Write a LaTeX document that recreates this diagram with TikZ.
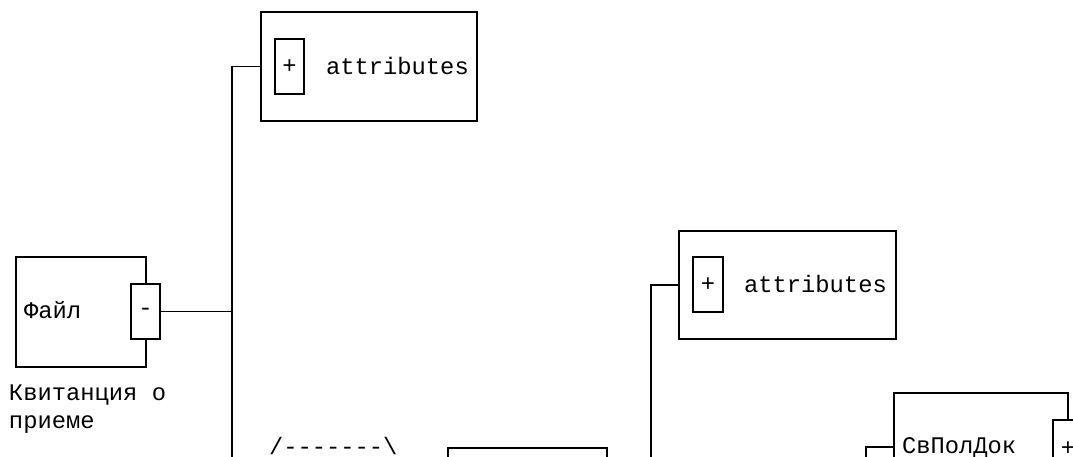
\documentclass[tikz,border=0pt]{standalone}
\usepackage{fontspec}
\setmainfont{Liberation Mono}
\newcommand{\dsh}{-\kern0pt}
\begin{document}
\begin{tikzpicture}[x=1pt,y=-1pt,
  line width=1.8pt,
  box/.style={draw, rectangle, inner sep=0pt, outer sep=0pt, anchor=north west, fill=white},
  txt/.style={inner sep=0pt, outer sep=0pt, anchor=base west, font=\fontsize{23.8}{29}\selectfont},
  sym/.style={inner sep=0pt, font=\fontsize{23.8}{29}\selectfont},
  conn/.style={draw}]
\useasboundingbox (0,0) rectangle (1073,457);
\clip (0,0) rectangle (1073,457);
% root element
\node[box, minimum width=130pt, minimum height=110pt] (file) at (16,257) {};
\node[box, minimum width=29pt, minimum height=55pt] (fileMinus) at (131,284) {};
\node[sym] at (fileMinus.center) {-};
\node[txt] (fileName) at (24,318) {Файл};
\node[txt] (fileDoc1) at (9,400) {Квитанция о};
\node[txt] (fileDoc2) at (9,428) {приеме};
% attributes 1
\node[box, minimum width=216pt, minimum height=109pt] (attr1) at (261,12) {};
\node[box, minimum width=29pt, minimum height=55pt] (plus1) at (275,39) {};
\node[sym] at (plus1.center) {+};
\node[txt] (attr1Text) at (326,75) {attributes};
% attributes 2
\node[box, minimum width=217pt, minimum height=108pt] (attr2) at (679,231) {};
\node[box, minimum width=30pt, minimum height=55pt] (plus2) at (693,257) {};
\node[sym] at (plus2.center) {+};
\node[txt] (attr2Text) at (744,292.5) {attributes};
% sequence symbol
\node[txt] (seq) at (269,454) {/\dsh\dsh\dsh\dsh\dsh\dsh\dsh\textbackslash};
% bottom box
\node[box, minimum width=159pt, minimum height=100pt] (bottomBox) at (448,448) {};
% СвПолДок
\node[box, minimum width=174pt, minimum height=108pt] (sv) at (894,393) {};
\node[box, minimum width=30pt, minimum height=55pt] (svPlus) at (1053,420) {};
\node[sym] at ([yshift=-1pt]svPlus.center) {+};
\node[txt] (svText) at (902,453) {СвПолДок};
% connectors
\coordinate (t1top) at (232,66.5);
\coordinate (t1bot) at (232,470);
\coordinate (t2bot) at (651,470);
\coordinate (t3bot) at (866,470);
\draw[conn] (t1bot) -- (t1top |- attr1.west) -- (attr1.west);
\draw[conn] (fileMinus.east) -- (t1top |- fileMinus.east);
\draw[conn] (t2bot) |- (attr2.west);
\draw[conn] (t3bot) |- (sv.west);
\end{tikzpicture}
\end{document}
